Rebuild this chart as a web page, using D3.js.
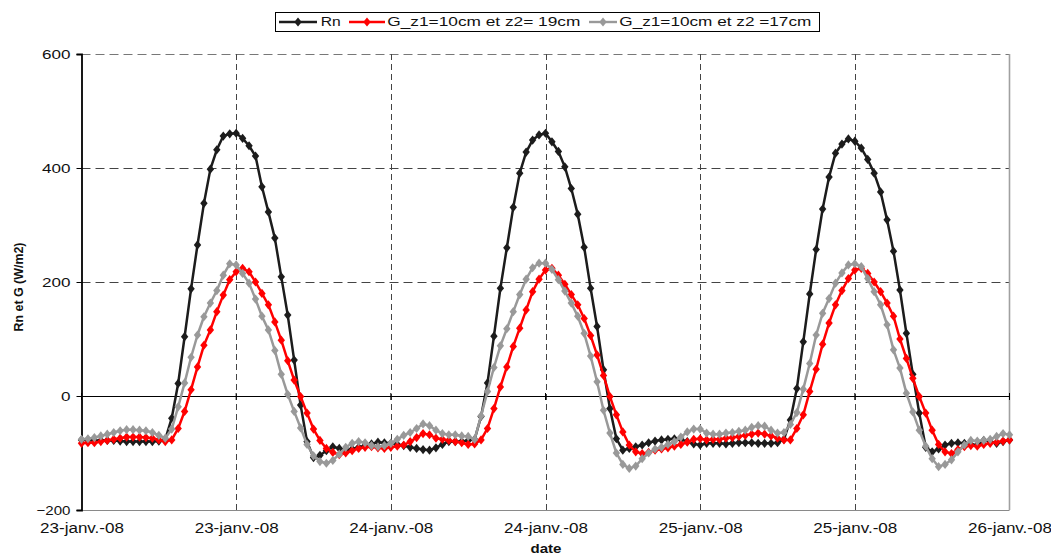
<!DOCTYPE html>
<html>
<head>
<meta charset="utf-8">
<script src="https://cdn.jsdelivr.net/npm/d3@7"></script>
<style>
  html, body { margin: 0; padding: 0; background: #fff; }
  svg { display: block; font-family: "Liberation Sans", Arial, sans-serif; }
</style>
</head>
<body>
<svg id="chart" width="1051" height="556"></svg>
<script>
// ---- data (half-hourly, 23-janv.-08 00:00 to 26-janv.-08 00:00) ----
const seriesNames = ["Rn", "G_z1=10cm et z2= 19cm", "G_z1=10cm et z2 =17cm"];
const xTickLabels = ["23-janv.-08", "23-janv.-08", "24-janv.-08", "24-janv.-08", "25-janv.-08", "25-janv.-08", "26-janv.-08"];
const yTicks = [-200, 0, 200, 400, 600];

const rn = [
  -77,-77,-78,-78,-78,-78,-79,-80,-80,-80,-80,-80,-79,-76,-39,22,104,188,265,338,398,432,456,460,461,452,439,421,367,323,277,209,142,63,-16,-80,-108,-104,-96,-89,-92,-95,-93,-90,-87,-84,-81,-82,
  -83,-85,-87,-90,-92,-94,-95,-91,-85,-80,-80,-80,-78,-76,-36,23,105,189,260,331,391,428,449,458,461,446,429,402,364,319,261,189,122,46,-22,-75,-95,-92,-89,-86,-82,-79,-77,-76,-75,-76,-80,-84,
  -86,-83,-83,-83,-84,-83,-82,-82,-82,-83,-83,-83,-82,-76,-42,13,95,179,257,328,384,426,442,451,447,435,415,391,358,309,254,186,110,38,-30,-90,-98,-93,-86,-83,-82,-83,-85,-86,-78,-80,-83,-80,
  -77];
const g19 = [
  -83,-82,-82,-80,-78,-76,-74,-72,-72,-72,-73,-74,-77,-80,-77,-57,-27,11,51,89,116,148,177,204,218,224,218,200,180,160,130,98,62,28,-1,-30,-58,-78,-92,-99,-103,-100,-96,-92,-90,-89,-91,-92,
  -90,-88,-86,-80,-73,-66,-68,-74,-76,-78,-80,-82,-85,-84,-77,-57,-22,16,51,87,119,151,183,205,221,224,212,196,178,160,136,106,72,36,-1,-33,-63,-86,-98,-101,-99,-95,-93,-91,-88,-85,-81,-76,
  -75,-77,-76,-76,-74,-73,-71,-69,-67,-65,-67,-70,-74,-77,-77,-57,-33,8,47,91,128,160,185,206,221,224,215,200,183,163,140,100,66,31,-1,-30,-60,-85,-98,-101,-94,-89,-87,-88,-85,-83,-81,-79,
  -77];
const g17 = [
  -76,-75,-73,-70,-67,-64,-61,-59,-59,-60,-61,-64,-69,-74,-58,-19,23,68,107,139,163,185,212,232,230,215,198,170,140,116,80,38,3,-27,-56,-85,-105,-115,-118,-113,-102,-90,-83,-80,-82,-87,-89,-87,
  -83,-76,-69,-64,-57,-49,-52,-60,-66,-68,-68,-70,-71,-76,-35,8,50,88,118,148,178,205,225,233,233,222,204,184,163,140,110,70,25,-25,-65,-100,-120,-127,-123,-110,-100,-93,-90,-85,-80,-72,-63,-58,
  -58,-65,-67,-67,-65,-64,-62,-60,-55,-52,-53,-60,-65,-64,-50,-29,12,57,107,145,171,198,216,230,232,227,206,183,160,125,81,49,5,-28,-60,-88,-110,-124,-120,-112,-98,-86,-78,-79,-78,-76,-71,-66,
  -68];
const hours = d3.range(rn.length).map(i => i * 0.5);   // x categories: half-hour steps
const xTickHours = [0, 12, 24, 36, 48, 60, 72];

// ---- layout ----
const svg = d3.select("#chart");
const L = 81.5, R = 1009.5, T = 54, B = 510;
const x = d3.scaleLinear().domain([0, 72]).range([L, R]);
const y = d3.scaleLinear().domain([-200, 600]).range([B, T]);

const colors = ["#1c1c1c", "#ff0000", "#999999"];
const series = [rn, g19, g17];

// horizontal gridlines (dashed)
svg.append("g").selectAll("line").data([200, 400, 600]).join("line")
  .attr("x1", L).attr("x2", R)
  .attr("y1", d => Math.round(y(d)) + 0.5).attr("y2", d => Math.round(y(d)) + 0.5)
  .attr("stroke", d => d === 600 ? "#777" : "#444").attr("stroke-width", 1)
  .attr("stroke-dasharray", "9,5");

// vertical gridlines (dashed)
svg.append("g").selectAll("line").data(xTickHours.slice(1, -1)).join("line")
  .attr("x1", d => Math.round(x(d)) + 0.5).attr("x2", d => Math.round(x(d)) + 0.5)
  .attr("y1", T).attr("y2", B)
  .attr("stroke", "#444").attr("stroke-width", 1)
  .attr("stroke-dasharray", "6,4");

// plot borders: bottom and right (gray)
svg.append("line").attr("x1", L).attr("x2", R).attr("y1", B + 0.5).attr("y2", B + 0.5)
  .attr("stroke", "#8a8a8a").attr("stroke-width", 1.2);
svg.append("line").attr("x1", R).attr("x2", R).attr("y1", T).attr("y2", B)
  .attr("stroke", "#a0a0a0").attr("stroke-width", 1.6);

// zero line (x axis crossing) with small ticks
svg.append("line").attr("x1", L).attr("x2", R).attr("y1", y(0) + 0.5).attr("y2", y(0) + 0.5)
  .attr("stroke", "#000").attr("stroke-width", 1);
svg.append("g").selectAll("line").data(xTickHours).join("line")
  .attr("x1", d => x(d)).attr("x2", d => x(d))
  .attr("y1", y(0) - 3).attr("y2", y(0) + 4)
  .attr("stroke", "#000").attr("stroke-width", 1);

// y axis
const yAxis = svg.append("g").attr("transform", `translate(${L},0)`)
  .call(d3.axisLeft(y).tickValues(yTicks).tickSize(5).tickPadding(6).tickFormat(d3.format("d")));
yAxis.select(".domain").attr("stroke", "#000").attr("stroke-width", 1.8);
yAxis.selectAll(".tick line").attr("stroke", "#000");
yAxis.selectAll(".tick text")
  .attr("font-family", "Liberation Sans, Arial, sans-serif")
  .attr("font-size", 13).attr("fill", "#111")
  .attr("dy", "0.36em")
  .attr("textLength", d => (String(d).replace("-", "").length * 9.5 + (d < 0 ? 5.5 : 0)))
  .attr("lengthAdjust", "spacingAndGlyphs");

// x axis labels (at the bottom)
const xAxis = svg.append("g").attr("transform", `translate(0,${B})`)
  .call(d3.axisBottom(x).tickValues(xTickHours).tickSize(0).tickPadding(13)
    .tickFormat((d, i) => xTickLabels[i]));
xAxis.select(".domain").remove();
xAxis.selectAll(".tick text")
  .attr("font-family", "Liberation Sans, Arial, sans-serif")
  .attr("font-size", 14).attr("fill", "#111")
  .attr("textLength", 84).attr("lengthAdjust", "spacingAndGlyphs");

// series lines + diamond markers
const line = d3.line().x((d, i) => x(hours[i])).y(d => y(d));
const diamond = "M0,-4.6L3.7,0L0,4.6L-3.7,0Z";
series.forEach((vals, k) => {
  const g = svg.append("g");
  g.append("path").datum(vals).attr("d", line)
    .attr("fill", "none").attr("stroke", colors[k]).attr("stroke-width", 2.5)
    .attr("stroke-linejoin", "round");
  g.selectAll("path.m").data(vals).join("path").attr("class", "m")
    .attr("d", diamond)
    .attr("transform", (d, i) => `translate(${x(hours[i])},${y(d)})`)
    .attr("fill", colors[k]);
});

// axis titles
svg.append("text")
  .attr("transform", "translate(23,287) rotate(-90)")
  .attr("text-anchor", "middle").attr("font-weight", "bold")
  .attr("font-size", 12.5).attr("fill", "#111")
  .attr("textLength", 89).attr("lengthAdjust", "spacingAndGlyphs")
  .text("Rn et G (W/m2)");
svg.append("text")
  .attr("x", 546).attr("y", 553)
  .attr("text-anchor", "middle").attr("font-weight", "bold")
  .attr("font-size", 13).attr("fill", "#111")
  .attr("textLength", 31).attr("lengthAdjust", "spacingAndGlyphs")
  .text("date");

// legend
const legend = svg.append("g");
legend.append("rect").attr("x", 275.5).attr("y", 12.5).attr("width", 544).attr("height", 19)
  .attr("fill", "#fff").attr("stroke", "#000").attr("stroke-width", 1);
const legItems = [
  { x1: 279, x2: 317, tx: 320.7, tl: 20 },
  { x1: 349, x2: 385, tx: 387.3, tl: 193 },
  { x1: 589, x2: 617, tx: 619.3, tl: 192 }
];
legItems.forEach((it, k) => {
  const ly = 22;
  legend.append("line").attr("x1", it.x1).attr("x2", it.x2).attr("y1", ly).attr("y2", ly)
    .attr("stroke", colors[k]).attr("stroke-width", 2.4);
  legend.append("path").attr("d", diamond)
    .attr("transform", `translate(${(it.x1 + it.x2) / 2},${ly})`).attr("fill", colors[k]);
  legend.append("text").attr("x", it.tx).attr("y", 26)
    .attr("font-size", 12).attr("fill", "#111")
    .attr("textLength", it.tl).attr("lengthAdjust", "spacingAndGlyphs")
    .text(seriesNames[k]);
});
</script>
</body>
</html>
